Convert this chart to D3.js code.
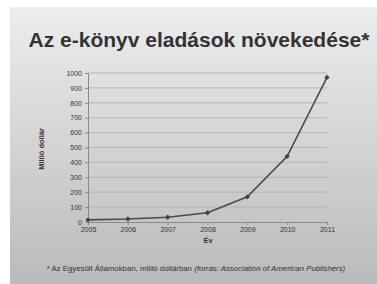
<!DOCTYPE html>
<html><head><meta charset="utf-8">
<script src="https://cdn.jsdelivr.net/npm/d3@7"></script>
<style>body{margin:0;background:#fff}svg{display:block}</style>
</head><body>
<script>
const years = ["2005","2006","2007","2008","2009","2010","2011"];
const sales = [14, 20, 32, 62, 169, 441, 970];
const yTicks = [0,100,200,300,400,500,600,700,800,900,1000];
const title = "Az e-könyv eladások növekedése*";
const yLabel = "Millió dollár";
const xLabel = "Év";

const W = 377, H = 284;
const svg = d3.select("body").append("svg").attr("width", W).attr("height", H);
const defs = svg.append("defs");
const g = defs.append("linearGradient").attr("id","bg").attr("x1",0).attr("y1",0).attr("x2",0).attr("y2",1);
g.append("stop").attr("offset","0%").attr("stop-color","#ededed");
g.append("stop").attr("offset","100%").attr("stop-color","#bababa");
svg.append("rect").attr("x",10).attr("y",7).attr("width",W-10).attr("height",H-7).attr("fill","url(#bg)");

svg.append("text").attr("x",199).attr("y",47).attr("text-anchor","middle")
  .attr("font-family","Liberation Sans, Arial, sans-serif").attr("font-weight","bold")
  .attr("font-size",21).attr("fill","#333").text(title);

const x = d3.scalePoint().domain(years).range([88, 327]);
const y = d3.scaleLinear().domain([0,1000]).range([222, 73]);

svg.append("g").selectAll("line").data(yTicks.slice(1)).join("line")
  .attr("x1",88).attr("x2",327).attr("y1",d=>y(d)).attr("y2",d=>y(d))
  .attr("stroke","#b5b5b5").attr("stroke-width",1);

const font = "Liberation Sans, Arial, sans-serif";
const yAxis = svg.append("g").attr("transform","translate(88,0)")
  .call(d3.axisLeft(y).tickValues(yTicks).tickFormat(d3.format("d")).tickSize(3).tickPadding(3));
const xAxis = svg.append("g").attr("transform","translate(0,222)")
  .call(d3.axisBottom(x).tickSize(3).tickPadding(2));
[yAxis,xAxis].forEach(a=>{
  a.select(".domain").attr("stroke","#8a8a8a");
  a.selectAll(".tick line").attr("stroke","#8a8a8a");
  a.selectAll("text").attr("font-family",font).attr("font-size",7).attr("fill","#333");
});

svg.append("text").attr("transform","translate(44,149) rotate(-90)").attr("text-anchor","middle")
  .attr("font-family",font).attr("font-weight","bold").attr("font-size",7.5).attr("fill","#333").text(yLabel);
svg.append("text").attr("x",208).attr("y",243).attr("text-anchor","middle")
  .attr("font-family",font).attr("font-weight","bold").attr("font-size",7.5).attr("fill","#333").text(xLabel);

const line = d3.line().x((d,i)=>x(years[i])).y(d=>y(d));
svg.append("path").datum(sales).attr("d",line).attr("fill","none").attr("stroke","#4a4a4a").attr("stroke-width",1.6);
svg.append("g").selectAll("path").data(sales).join("path")
  .attr("d", d3.symbol().type(d3.symbolSquare).size(14))
  .attr("transform",(d,i)=>`translate(${x(years[i])},${y(d)}) rotate(45)`).attr("fill","#444");

const foot = svg.append("text").attr("x",196).attr("y",271).attr("text-anchor","middle")
  .attr("font-family",font).attr("font-size",7.8).attr("fill","#333");
foot.append("tspan").text("* Az Egyesült Államokban,  millió dollárban  ");
foot.append("tspan").attr("font-style","italic").text("(forrás: Association of American Publishers)");
</script>
</body></html>
